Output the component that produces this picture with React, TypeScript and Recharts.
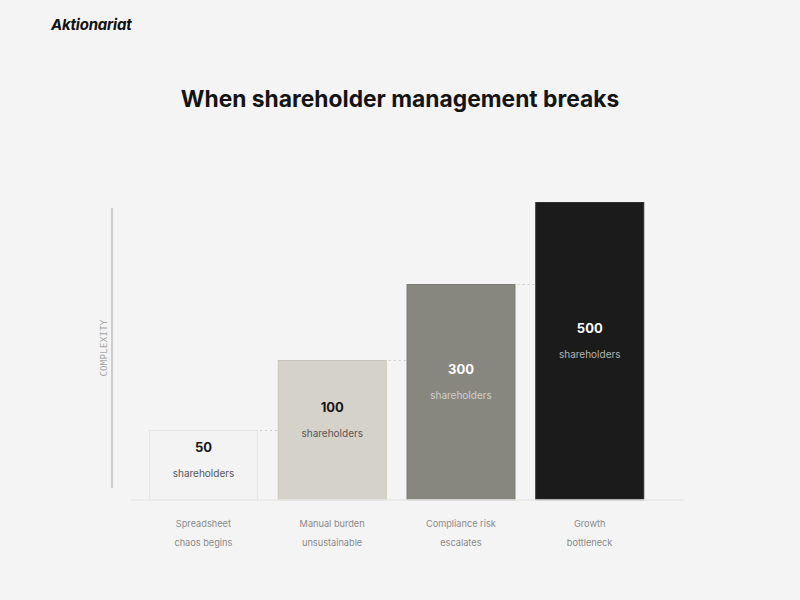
import React from 'react';
import { BarChart, Bar, XAxis, YAxis, Cell } from 'recharts';

const stageTop = ['Spreadsheet', 'Manual burden', 'Compliance risk', 'Growth'];
const stageBottom = ['chaos begins', 'unsustainable', 'escalates', 'bottleneck'];
const shareholders = [50, 100, 300, 500];
// relative complexity
const complexity = [70, 140, 216, 298];

const barFills = ['#f3f3f3', '#d5d2ca', '#878780', '#1b1b1b'];
const barStrokes = ['#e6e6e6', '#c9c6be', '#7c7c76', '#2e2e2e'];
const numberColors = ['#161616', '#161616', '#ffffff', '#ffffff'];
const subColors = ['#555555', '#555555', '#cfcfc8', '#b4b4b4'];

const data = stageTop.map((s, i) => ({
  stage: s,
  stageBottom: stageBottom[i],
  shareholders: shareholders[i],
  complexity: complexity[i],
}));

const FONT = 'Inter, "Noto Sans", sans-serif';
const GAP = 20;

const StepBar: React.FC<any> = ({ x, y, width, height, index, payload }) => {
  const cy = y + height / 2;
  const numY = Math.max(y + 17, cy - 23);
  const last = index === data.length - 1;
  return (
    <g>
      <rect x={x + 0.5} y={y + 0.5} width={width - 1} height={height - 0.5} fill={barFills[index]} stroke={barStrokes[index]} strokeWidth={1} />
      {!last && (
        <line x1={x + width + 2} x2={x + width + GAP} y1={y + 0.5} y2={y + 0.5} stroke="#cfcfcf" strokeWidth={1} strokeDasharray="2 3" />
      )}
      <text x={x + width / 2} y={numY} textAnchor="middle" dominantBaseline="central" fontFamily={FONT} fontWeight={700} fontSize={13} fill={numberColors[index]}>
        {payload.shareholders}
      </text>
      <text x={x + width / 2} y={numY + 26} textAnchor="middle" dominantBaseline="central" fontFamily={FONT} fontSize={10} fill={subColors[index]}>
        shareholders
      </text>
    </g>
  );
};

const StageTick: React.FC<any> = ({ x, y, index }) => (
  <g>
    <text x={x} y={y + 23} textAnchor="middle" dominantBaseline="central" fontFamily={FONT} fontSize={9.2} fill="#8a8a8a">
      {stageTop[index]}
    </text>
    <text x={x} y={y + 42} textAnchor="middle" dominantBaseline="central" fontFamily={FONT} fontSize={9.2} fill="#8a8a8a">
      {stageBottom[index]}
    </text>
  </g>
);

export default function App() {
  return (
    <div style={{ position: 'absolute', left: 0, top: 0, width: 800, height: 600, background: '#f4f4f4', fontFamily: FONT }}>
      <div style={{ position: 'absolute', left: 51, top: 15, fontSize: 15, fontWeight: 700, fontStyle: 'italic', color: '#111', letterSpacing: -0.2 }}>
        Aktionariat
      </div>
      <div style={{ position: 'absolute', left: 0, top: 85, width: 800, textAlign: 'center', fontSize: 22.8, fontWeight: 700, color: '#141414' }}>
        When shareholder management breaks
      </div>
      {/* axis decoration */}
      <div style={{ position: 'absolute', left: 111, top: 208, width: 1.5, height: 280, background: '#cccccc' }} />
      <div
        style={{
          position: 'absolute', left: 104, top: 348, transform: 'translate(-50%, -50%) rotate(-90deg)',
          fontFamily: '"DejaVu Sans Mono", monospace', fontSize: 9, color: '#a8a8a8', letterSpacing: 0.3, whiteSpace: 'nowrap',
        }}
      >
        COMPLEXITY
      </div>
      <BarChart width={800} height={600} data={data} margin={{ top: 200, right: 116, left: 131, bottom: 40 }} barCategoryGap={10}>
        <XAxis
          dataKey="stage"
          height={60}
          padding={{ left: 8, right: 30 }}
          axisLine={{ stroke: '#e8e8e8', strokeWidth: 1.5 }}
          tickLine={false}
          tickSize={0}
          tickMargin={0}
          interval={0}
          tick={<StageTick />}
        />
        <YAxis hide domain={[0, 300]} />
        <Bar dataKey="complexity" isAnimationActive={false} shape={<StepBar />}>
          {data.map((d, i) => (
            <Cell key={d.stage} fill={barFills[i]} />
          ))}
        </Bar>
      </BarChart>
    </div>
  );
}
